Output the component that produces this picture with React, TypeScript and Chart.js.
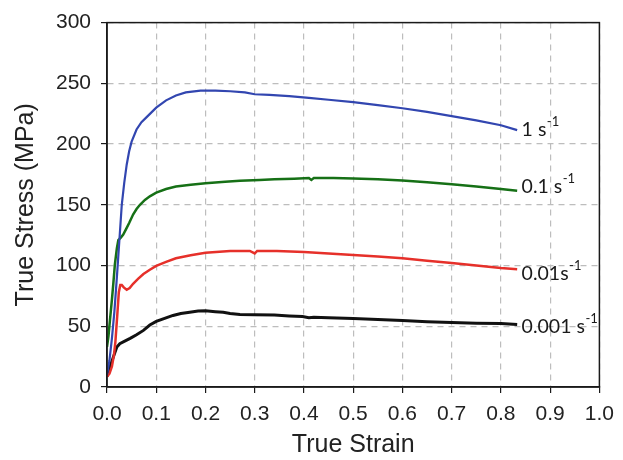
import React, { useEffect, useRef } from "react";
import { Chart, registerables } from "chart.js";

Chart.register(...registerables);

const X_TICK_STEP = 0.1;
const Y_TICK_STEP = 50;

const SERIES_NAMES = ["1 s", "0.1 s", "0.01s", "0.001 s"];
const SERIES_SUPER = "-1";
const SERIES_COLORS = ["#3246b0", "#167016", "#e6302a", "#111111"];
const SERIES_WIDTHS = [2.2, 2.5, 2.5, 3];
const LABEL_X = 0.842;
const LABEL_Y = [212, 165, 93.5, 50];

const BLUE_X = [0, 0.005, 0.01, 0.015, 0.02, 0.025, 0.03, 0.035, 0.04, 0.045, 0.05, 0.06, 0.07, 0.08, 0.1, 0.12, 0.14, 0.16, 0.19, 0.22, 0.25, 0.28, 0.3, 0.33, 0.37, 0.41, 0.45, 0.5, 0.55, 0.6, 0.65, 0.7, 0.75, 0.8, 0.833];
const BLUE_Y = [10, 22, 40, 62, 90, 120, 150, 168, 183, 194, 202, 212, 218, 222, 230, 236, 240, 242.5, 244, 244, 243.5, 242.5, 241, 240.5, 239.5, 238, 236.5, 234.5, 232, 229.5, 226.5, 223, 219.5, 215.5, 211.5];

const GREEN_X = [0, 0.003, 0.006, 0.01, 0.013, 0.016, 0.02, 0.023, 0.028, 0.033, 0.04, 0.045, 0.053, 0.06, 0.067, 0.077, 0.087, 0.1, 0.12, 0.14, 0.17, 0.2, 0.24, 0.27, 0.31, 0.34, 0.38, 0.41, 0.415, 0.42, 0.46, 0.5, 0.55, 0.6, 0.65, 0.7, 0.75, 0.8, 0.833];
const GREEN_Y = [33, 42, 55, 72, 86, 101, 114, 121, 123, 125.5, 131, 135, 142, 146.5, 150, 154, 157, 160, 163, 165, 166.5, 167.8, 169, 169.8, 170.5, 171, 171.5, 172, 170.5, 172, 172, 171.7, 171, 170, 168.5, 167, 165, 163, 161.5];

const RED_X = [0, 0.005, 0.01, 0.014, 0.017, 0.021, 0.024, 0.027, 0.03, 0.034, 0.04, 0.046, 0.053, 0.063, 0.074, 0.087, 0.1, 0.12, 0.14, 0.17, 0.2, 0.25, 0.29, 0.3, 0.305, 0.345, 0.4, 0.45, 0.5, 0.55, 0.6, 0.65, 0.7, 0.75, 0.8, 0.833];
const RED_Y = [8.5, 11, 17, 26, 37, 60, 78, 84, 84, 82, 80, 81.5, 85, 89, 93, 96.5, 99.7, 103, 106, 108.5, 110.6, 112, 112, 110, 112, 112, 111.2, 110, 108.7, 107.5, 106, 104, 102, 100, 98, 97];

const BLACK_X = [0, 0.006, 0.013, 0.02, 0.026, 0.035, 0.047, 0.06, 0.074, 0.087, 0.1, 0.117, 0.134, 0.15, 0.168, 0.185, 0.2, 0.22, 0.236, 0.25, 0.27, 0.3, 0.34, 0.37, 0.397, 0.41, 0.42, 0.45, 0.5, 0.55, 0.6, 0.65, 0.7, 0.75, 0.8, 0.833];
const BLACK_Y = [8.5, 16.6, 24.8, 33, 35.7, 37.5, 40, 43, 46.6, 51, 54, 56.5, 58.9, 60.5, 61.6, 62.5, 62.8, 62, 61.5, 60.5, 59.7, 59.4, 59.2, 58.5, 58, 57, 57.5, 57, 56.4, 55.5, 54.8, 53.8, 53, 52.5, 52.3, 51.5];

const SERIES_X = [BLUE_X, GREEN_X, RED_X, BLACK_X];
const SERIES_Y = [BLUE_Y, GREEN_Y, RED_Y, BLACK_Y];

const AXIS_COLOR = "#1a1a1a";
const GRID_COLOR = "#bdbdbd";

const framePlugin = {
  id: "frameAndLabels",
  afterDatasetsDraw(chart: any) {
    const { ctx, chartArea, scales } = chart;
    ctx.save();
    ctx.strokeStyle = AXIS_COLOR;
    ctx.lineWidth = 1.5;
    ctx.strokeRect(chartArea.left, chartArea.top, chartArea.right - chartArea.left, chartArea.bottom - chartArea.top);
    ctx.fillStyle = "#1a1a1a";
    ctx.textAlign = "left";
    ctx.textBaseline = "middle";
    SERIES_NAMES.forEach((name, i) => {
      const x = scales.x.getPixelForValue(LABEL_X);
      const y = scales.y.getPixelForValue(LABEL_Y[i]);
      ctx.font = "19.5px Lato";
      ctx.fillText(name, x, y);
      const w = ctx.measureText(name).width;
      ctx.font = "13px Lato";
      ctx.fillText(SERIES_SUPER, x + w + 0.5, y - 7.5);
    });
    ctx.restore();
  },
};

export default function App() {
  const ref = useRef<HTMLCanvasElement | null>(null);
  useEffect(() => {
    if (!ref.current) return;
    Chart.defaults.font.family = "'Liberation Sans', Arial, sans-serif";
    const chart = new Chart(ref.current, {
      type: "scatter",
      data: {
        datasets: SERIES_NAMES.map((name, i) => ({
          label: name + SERIES_SUPER,
          data: SERIES_X[i].map((x, j) => ({ x, y: SERIES_Y[i][j] })),
          showLine: true,
          borderColor: SERIES_COLORS[i],
          backgroundColor: SERIES_COLORS[i],
          borderWidth: SERIES_WIDTHS[i],
          pointRadius: 0,
          tension: 0,
        })),
      },
      options: {
        responsive: false,
        animation: false,
        layout: { padding: { top: 20, right: 22, left: 0, bottom: 0 } },
        plugins: { legend: { display: false }, tooltip: { enabled: false } },
        scales: {
          x: {
            type: "linear",
            min: 0,
            max: 1,
            afterFit: (s: any) => { s.height = 73; },
            ticks: {
              stepSize: X_TICK_STEP,
              callback: (v: any) => Number(v).toFixed(1),
              font: { size: 21 },
              color: "#222",
              padding: 9,
              maxRotation: 0,
            },
            grid: { color: GRID_COLOR, lineWidth: 1.2, tickLength: 6, tickColor: AXIS_COLOR, tickWidth: 1.2 },
            border: { display: true, color: AXIS_COLOR, width: 1.5, dash: [6, 5] },
            title: { display: true, text: "True Strain", font: { size: 25 }, color: "#222", padding: { top: 0, bottom: 0 } },
          },
          y: {
            type: "linear",
            min: 0,
            max: 300,
            afterFit: (s: any) => { s.width = 107; },
            ticks: { stepSize: Y_TICK_STEP, font: { size: 21 }, color: "#222", padding: 10 },
            grid: { color: GRID_COLOR, lineWidth: 1.2, tickLength: 6, tickColor: AXIS_COLOR, tickWidth: 1.2 },
            border: { display: true, color: AXIS_COLOR, width: 1.5, dash: [6, 5] },
            title: { display: true, text: "True Stress (MPa)", font: { size: 25 }, color: "#222", padding: { top: 11, bottom: 0 } },
          },
        },
      },
      plugins: [framePlugin],
    });
    return () => chart.destroy();
  }, []);
  return (
    <div style={{ position: "absolute", left: 0, top: 0, width: 623, height: 460, background: "#fff" }}>
      <canvas ref={ref} width={623} height={460} style={{ display: "block" }} />
    </div>
  );
}
